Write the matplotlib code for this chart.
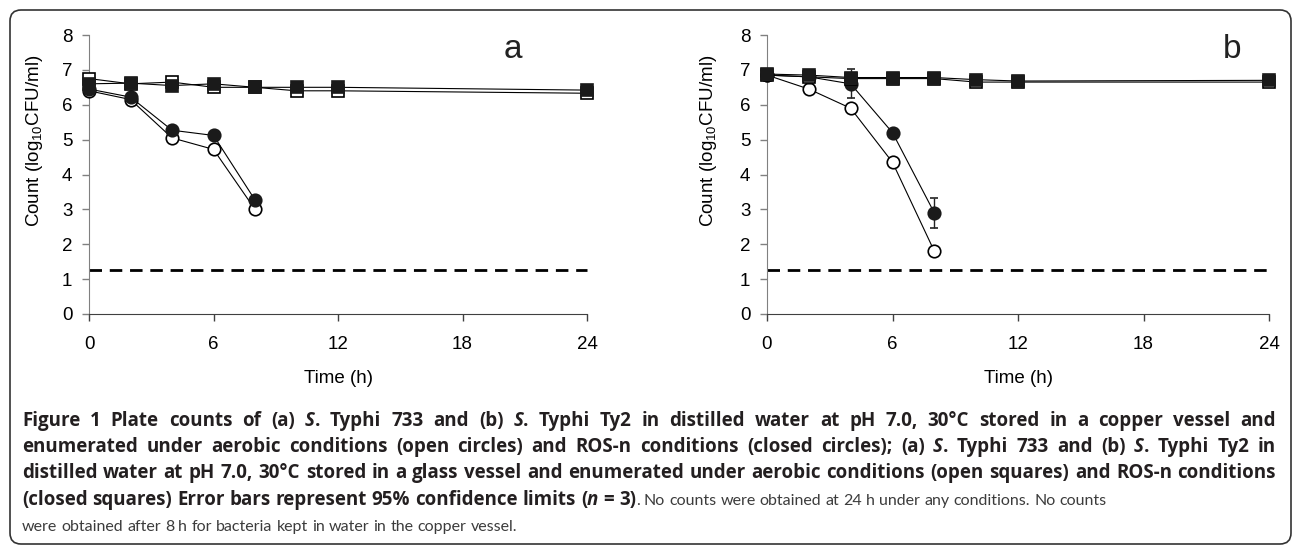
import numpy as np
import matplotlib
matplotlib.use("Agg")
import matplotlib.pyplot as plt
from matplotlib.patches import FancyBboxPatch
from matplotlib.transforms import IdentityTransform

# time points (h)
T_COPPER = [0, 2, 4, 6, 8]
T_GLASS = [0, 2, 4, 6, 8, 10, 12, 24]

# panel a: S. Typhi 733
A_OPEN_CIRC = [6.40, 6.15, 5.05, 4.72, 3.00]
A_OPEN_CIRC_ERR = [0.08, 0.08, 0.08, 0.08, 0.08]
A_CLOSED_CIRC = [6.45, 6.22, 5.27, 5.12, 3.27]
A_CLOSED_CIRC_ERR = [0.08, 0.08, 0.08, 0.08, 0.10]
A_OPEN_SQ = [6.75, 6.60, 6.65, 6.50, 6.50, 6.40, 6.40, 6.33]
A_OPEN_SQ_ERR = [0.08, 0.08, 0.08, 0.08, 0.06, 0.06, 0.06, 0.06]
A_CLOSED_SQ = [6.60, 6.62, 6.55, 6.60, 6.50, 6.50, 6.50, 6.42]
A_CLOSED_SQ_ERR = [0.08, 0.08, 0.08, 0.08, 0.06, 0.06, 0.06, 0.06]

# panel b: S. Typhi Ty2
B_OPEN_CIRC = [6.85, 6.45, 5.90, 4.35, 1.80]
B_OPEN_CIRC_ERR = [0.06, 0.06, 0.08, 0.08, 0.08]
B_CLOSED_CIRC = [6.85, 6.80, 6.60, 5.20, 2.90]
B_CLOSED_CIRC_ERR = [0.06, 0.06, 0.42, 0.08, 0.42]
B_OPEN_SQ = [6.85, 6.80, 6.75, 6.75, 6.75, 6.65, 6.65, 6.65]
B_OPEN_SQ_ERR = [0.06, 0.06, 0.06, 0.06, 0.06, 0.06, 0.06, 0.06]
B_CLOSED_SQ = [6.88, 6.85, 6.78, 6.78, 6.78, 6.72, 6.68, 6.70]
B_CLOSED_SQ_ERR = [0.06, 0.06, 0.06, 0.06, 0.06, 0.06, 0.06, 0.06]

DETECTION_LIMIT = 1.25
X_TICKS = [0, 6, 12, 18, 24]
Y_TICKS = [0, 1, 2, 3, 4, 5, 6, 7, 8]

# caption: (text, style) where style is b = bold, bi = bold italic, r = regular
CAPTION = [
    ([("Figure 1", "b"), (" Plate counts of (a) ", "b"), ("S", "bi"), (". Typhi 733 and (b) ", "b"),
      ("S", "bi"), (". Typhi Ty2 in distilled water at pH 7.0, 30°C stored in a copper vessel and", "b")], True),
    ([("enumerated under aerobic conditions (open circles) and ROS-n conditions (closed circles); (a) ", "b"),
      ("S", "bi"), (". Typhi 733 and (b) ", "b"), ("S", "bi"), (". Typhi Ty2 in", "b")], True),
    ([("distilled water at pH 7.0, 30°C stored in a glass vessel and enumerated under aerobic conditions (open squares) and ROS-n conditions", "b")], True),
    ([("(closed squares) Error bars represent 95% confidence limits (", "b"), ("n", "bi"), (" = 3)", "b"),
      (". No counts were obtained at 24 h under any conditions. No counts", "r")], False),
    ([("were obtained after 8 h for bacteria kept in water in the copper vessel.", "r")], False),
]

W, H = 1293, 545
plt.rcParams['font.family'] = ['Liberation Sans', 'DejaVu Sans']
plt.rcParams['mathtext.default'] = 'regular'

fig = plt.figure(figsize=(W / 100, H / 100), dpi=100)


def make_axes(left_px, right_px, label_x):
    top_px, bottom_px = 35, 314
    ax = fig.add_axes([left_px / W, 1 - bottom_px / H, (right_px - left_px) / W, (bottom_px - top_px) / H])
    ax.set_xlim(0, 24)
    ax.set_ylim(0, 8)
    for s in ['top', 'right']:
        ax.spines[s].set_visible(False)
    ax.spines['left'].set_color('#808080')
    ax.spines['bottom'].set_color('#404040')
    ax.set_xticks(X_TICKS)
    ax.set_yticks(Y_TICKS)
    ax.tick_params(axis='x', direction='out', length=5, width=1, color='#404040', pad=11, labelsize=13.5)
    ax.tick_params(axis='y', direction='out', length=5, width=1, color='#808080', pad=7, labelsize=13.5)
    ax.set_xlabel('Time (h)', fontsize=13.5, labelpad=12)
    ax.set_ylabel('Count (log$_{10}$CFU/ml)', fontsize=13.5)
    ax.yaxis.set_label_coords(label_x, 0.62)
    return ax


def draw_panel(ax, oc, oce, cc, cce, os_, ose, cs, cse, letter, letter_x):
    ax.plot([0, 24], [DETECTION_LIMIT, DETECTION_LIMIT], color='black', lw=2,
            dashes=(4.5, 2.8), clip_on=False, zorder=1)
    common = dict(color='black', lw=0.8, markersize=9, capsize=3, elinewidth=1,
                  capthick=1, ecolor='#222222', clip_on=False, markeredgewidth=1.2)
    ax.errorbar(T_COPPER, oc, yerr=oce, marker='o', mfc='white', mec='black', zorder=3, **common)
    ax.errorbar(T_COPPER, cc, yerr=cce, marker='o', mfc='#1a1a1a', mec='#1a1a1a', zorder=4, **common)
    ax.errorbar(T_GLASS, os_, yerr=ose, marker='s', mfc='white', mec='black', zorder=5, **common)
    ax.errorbar(T_GLASS, cs, yerr=cse, marker='s', mfc='#1a1a1a', mec='#1a1a1a', zorder=6, **common)
    fig.text(letter_x / W, 1 - 50 / H, letter, fontsize=24, ha='center', va='center', color='#222222')


ax_a = make_axes(89, 587, -0.088)
draw_panel(ax_a, A_OPEN_CIRC, A_OPEN_CIRC_ERR, A_CLOSED_CIRC, A_CLOSED_CIRC_ERR,
           A_OPEN_SQ, A_OPEN_SQ_ERR, A_CLOSED_SQ, A_CLOSED_SQ_ERR, 'a', 513)
ax_b = make_axes(767, 1269, -0.096)
draw_panel(ax_b, B_OPEN_CIRC, B_OPEN_CIRC_ERR, B_CLOSED_CIRC, B_CLOSED_CIRC_ERR,
           B_OPEN_SQ, B_OPEN_SQ_ERR, B_CLOSED_SQ, B_CLOSED_SQ_ERR, 'b', 1232)

# rounded frame around the whole figure
frame = FancyBboxPatch((10, H - 544), 1281, 534, boxstyle='round,pad=0,rounding_size=11',
                       transform=IdentityTransform(), fill=False, ec='#333333', lw=1.2)
fig.patches.append(frame)

# caption, drawn word by word so that lines can be justified
STYLES = {
    'b': dict(family=['Open Sans', 'DejaVu Sans'], fontsize=13.5, fontweight='bold',
              fontstyle='normal', color='#231f20'),
    'bi': dict(family=['Open Sans', 'DejaVu Sans'], fontsize=13.5, fontweight='bold',
               fontstyle='italic', color='#231f20'),
    'r': dict(family=['Lato', 'DejaVu Sans'], fontsize=11.5, fontweight='normal',
              fontstyle='normal', color='#3c3c3c'),
}
fig.canvas.draw()
renderer = fig.canvas.get_renderer()


def text_width(s, style):
    t = fig.text(0, 0, s, **STYLES[style])
    w = t.get_window_extent(renderer).width
    t.remove()
    return w


x_left, x_right = 22, 1276
baselines = [426, 452, 478, 505, 531]
for (segs, justify), base in zip(CAPTION, baselines):
    pieces = []
    for txt, st in segs:
        parts = txt.split(' ')
        for i, p in enumerate(parts):
            if i > 0:
                pieces.append(('space', ' ', st))
            if p:
                pieces.append(('word', p, st))
    widths = []
    for kind, txt, st in pieces:
        if kind == 'space':
            widths.append(text_width('a a', st) - text_width('aa', st))
        else:
            widths.append(text_width(txt, st))
    n_space = sum(1 for p in pieces if p[0] == 'space')
    extra = 0
    if justify and n_space:
        extra = (x_right - x_left - sum(widths)) / n_space
    x = x_left
    for (kind, txt, st), w in zip(pieces, widths):
        if kind == 'space':
            x += w + extra
            continue
        fig.text(x, H - base, txt, transform=IdentityTransform(), ha='left', va='baseline', **STYLES[st])
        x += w

fig.savefig('out.png', dpi=100)
